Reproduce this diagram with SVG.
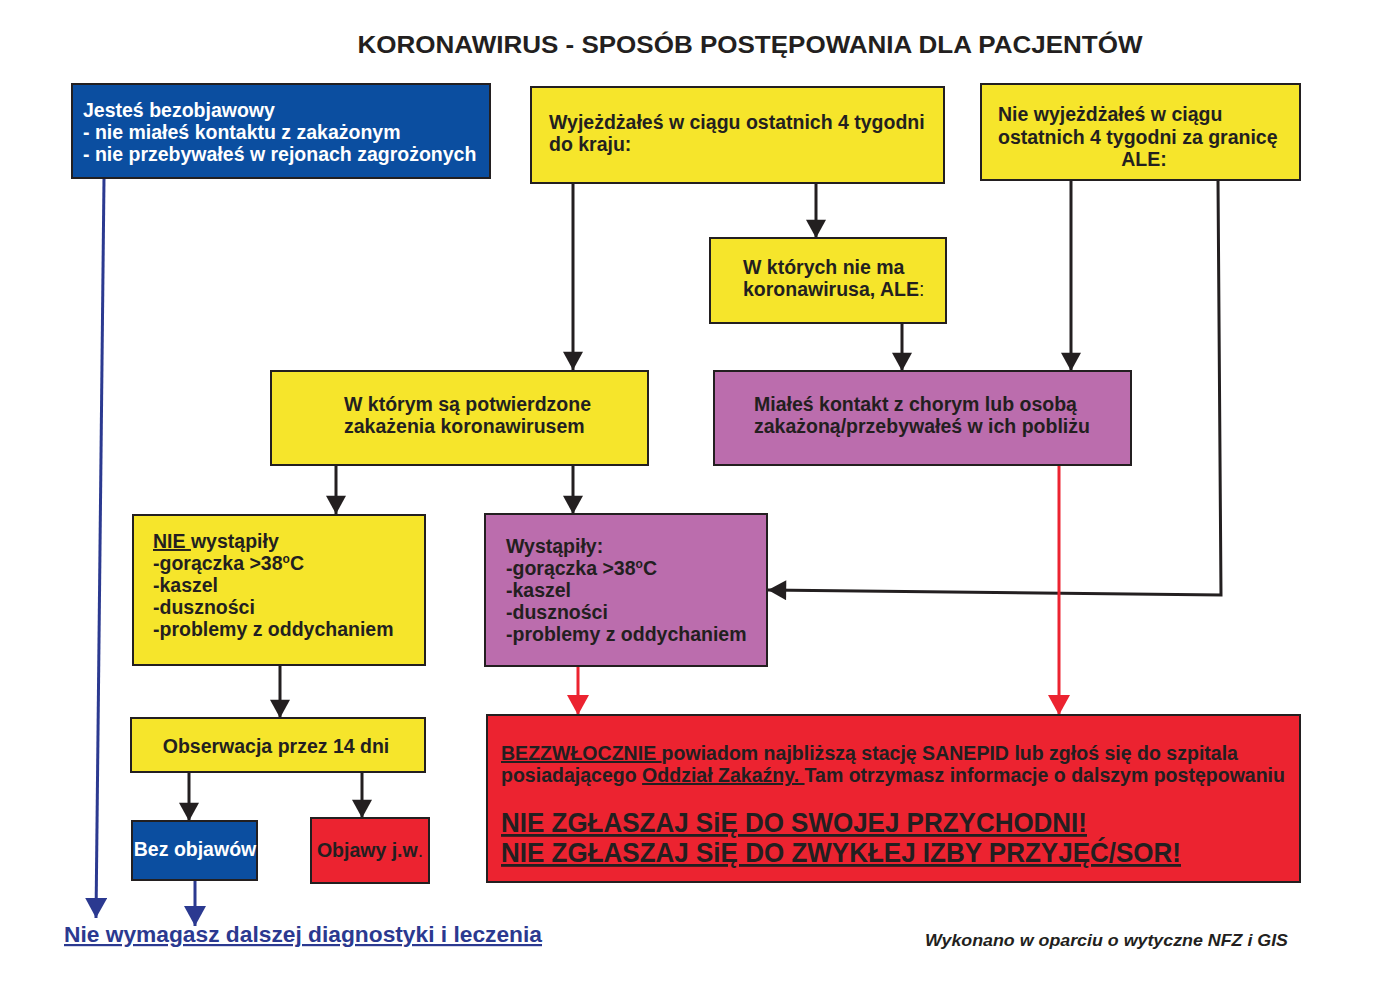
<svg xmlns="http://www.w3.org/2000/svg" width="1400" height="999" viewBox="0 0 1400 999">
<defs>
<style>
.t{font-family:"Liberation Sans",Arial,sans-serif;font-weight:bold;font-size:19.5px;fill:#231f20}
.w{fill:#ffffff}
.box{stroke:#231f20;stroke-width:2}
.y{fill:#f6e52b}
.b{fill:#0b4ea0}
.p{fill:#bb6dad}
.r{fill:#ec2330}
.k{stroke:#231f20;stroke-width:3;fill:none}
.kr{stroke:#ec2330;stroke-width:3;fill:none}
.kb{stroke:#2b3990;stroke-width:3;fill:none}
.u{text-decoration:underline}
.n{font-family:"Liberation Sans",Arial,sans-serif;font-weight:bold;fill:#231f20}
</style>
<marker id="ak" viewBox="0 0 20 22" refX="20" refY="11" markerWidth="22" markerHeight="20" markerUnits="userSpaceOnUse" orient="auto"><path d="M0,0 L20,11 L0,22 Z" fill="#231f20"/></marker>
<marker id="ar" viewBox="0 0 20 22" refX="20" refY="11" markerWidth="24" markerHeight="22" markerUnits="userSpaceOnUse" orient="auto"><path d="M0,0 L20,11 L0,22 Z" fill="#ec2330"/></marker>
<marker id="ab" viewBox="0 0 20 22" refX="20" refY="11" markerWidth="24" markerHeight="22" markerUnits="userSpaceOnUse" orient="auto"><path d="M0,0 L20,11 L0,22 Z" fill="#2b3990"/></marker>
</defs>
<rect width="1400" height="999" fill="#ffffff"/>
<text class="t" x="750" y="53" text-anchor="middle" style="font-size:24.5px" textLength="785" lengthAdjust="spacingAndGlyphs">KORONAWIRUS - SPOSÓB POSTĘPOWANIA DLA PACJENTÓW</text>

<g id="connectors">
<path class="kb" d="M104,178 L96,918" marker-end="url(#ab)"/>
<path class="kb" d="M195,880 L195,926" marker-end="url(#ab)"/>
<path class="k" d="M573,183 L573,370" marker-end="url(#ak)"/>
<path class="k" d="M816,183 L816,238" marker-end="url(#ak)"/>
<path class="k" d="M902,323 L902,371" marker-end="url(#ak)"/>
<path class="k" d="M1071,180 L1071,371" marker-end="url(#ak)"/>
<path class="k" d="M1218,180 L1221,595 L768,590" marker-end="url(#ak)"/>
<path class="k" d="M336,465 L336,514" marker-end="url(#ak)"/>
<path class="k" d="M573,465 L573,514" marker-end="url(#ak)"/>
<path class="k" d="M280,665 L280,718" marker-end="url(#ak)"/>
<path class="k" d="M189,772 L189,821" marker-end="url(#ak)"/>
<path class="k" d="M362,772 L362,818" marker-end="url(#ak)"/>
<path class="kr" d="M578,666 L578,715" marker-end="url(#ar)"/>
<path class="kr" d="M1059,465 L1059,715" marker-end="url(#ar)"/>
</g>

<g id="n-bezobjawowy">
<rect class="box b" x="72" y="84" width="418" height="94"/>
<text class="t w" x="83" y="117">Jesteś bezobjawowy</text>
<text class="t w" x="83" y="139">- nie miałeś kontaktu z zakażonym</text>
<text class="t w" x="83" y="161">- nie przebywałeś w rejonach zagrożonych</text>
</g>

<g id="n-wyjezdzales">
<rect class="box y" x="531" y="87" width="413" height="96"/>
<text class="t" x="549" y="129">Wyjeżdżałeś w ciągu ostatnich 4 tygodni</text>
<text class="t" x="549" y="151">do kraju:</text>
</g>

<g id="n-niewyjezdzales">
<rect class="box y" x="981" y="84" width="319" height="96"/>
<text class="t" x="998" y="121">Nie wyjeżdżałeś w ciągu</text>
<text class="t" x="998" y="144">ostatnich 4 tygodni za granicę</text>
<text class="t" x="1144" y="166" text-anchor="middle">ALE:</text>
</g>

<g id="n-niema">
<rect class="box y" x="710" y="238" width="236" height="85"/>
<text class="t" x="743" y="274">W których nie ma</text>
<text class="t" x="743" y="296">koronawirusa, ALE<tspan font-weight="normal">:</tspan></text>
</g>

<g id="n-potwierdzone">
<rect class="box y" x="271" y="371" width="377" height="94"/>
<text class="t" x="344" y="411">W którym są potwierdzone</text>
<text class="t" x="344" y="433">zakażenia koronawirusem</text>
</g>

<g id="n-kontakt">
<rect class="box p" x="714" y="371" width="417" height="94"/>
<text class="t" x="754" y="411">Miałeś kontakt z chorym lub osobą</text>
<text class="t" x="754" y="433">zakażoną/przebywałeś w ich pobliżu</text>
</g>

<g id="n-niewystapily">
<rect class="box y" x="133" y="515" width="292" height="150"/>
<text class="t" x="153" y="548"><tspan class="u">NIE </tspan>wystąpiły</text>
<text class="t" x="153" y="570">-gorączka &gt;38<tspan style="font-size:12px" dy="-7">o</tspan><tspan dy="7">C</tspan></text>
<text class="t" x="153" y="592">-kaszel</text>
<text class="t" x="153" y="614">-duszności</text>
<text class="t" x="153" y="636">-problemy z oddychaniem</text>
</g>

<g id="n-wystapily">
<rect class="box p" x="485" y="514" width="282" height="152"/>
<text class="t" x="506" y="553">Wystąpiły:</text>
<text class="t" x="506" y="575">-gorączka &gt;38<tspan style="font-size:12px" dy="-7">o</tspan><tspan dy="7">C</tspan></text>
<text class="t" x="506" y="597">-kaszel</text>
<text class="t" x="506" y="619">-duszności</text>
<text class="t" x="506" y="641">-problemy z oddychaniem</text>
</g>

<g id="n-obserwacja">
<rect class="box y" x="131" y="718" width="294" height="54"/>
<text class="t" x="276" y="753" text-anchor="middle">Obserwacja przez 14 dni</text>
</g>

<g id="n-bezobjawow">
<rect class="box b" x="132" y="821" width="125" height="59"/>
<text class="t w" x="195" y="856" text-anchor="middle">Bez objawów</text>
</g>

<g id="n-objawy">
<rect class="box r" x="311" y="818" width="118" height="65"/>
<text class="t" x="370" y="857" text-anchor="middle">Objawy j.w<tspan font-weight="normal">.</tspan></text>
</g>

<g id="n-sanepid">
<rect class="box r" x="487" y="715" width="813" height="167"/>
<text class="n" x="501" y="760" textLength="737" lengthAdjust="spacingAndGlyphs" style="font-size:20px"><tspan class="u">BEZZWŁOCZNIE </tspan>powiadom najbliższą stację SANEPID lub zgłoś się do szpitala</text>
<text class="n" x="501" y="782" textLength="784" lengthAdjust="spacingAndGlyphs" style="font-size:20px">posiadającego <tspan class="u">Oddział Zakaźny. </tspan>Tam otrzymasz informacje o dalszym postępowaniu</text>
<text class="n u" x="501" y="832" textLength="586" lengthAdjust="spacingAndGlyphs" style="font-size:28px">NIE ZGŁASZAJ SiĘ DO SWOJEJ PRZYCHODNI!</text>
<text class="n u" x="501" y="862" textLength="680" lengthAdjust="spacingAndGlyphs" style="font-size:28px">NIE ZGŁASZAJ SiĘ DO ZWYKŁEJ IZBY PRZYJĘĆ/SOR!</text>
</g>

<g id="n-niewymagasz">
<text class="t u" x="64" y="942" style="font-size:22px;fill:#2b3990" textLength="478" lengthAdjust="spacingAndGlyphs">Nie wymagasz dalszej diagnostyki i leczenia</text>
</g>

<g id="n-wykonano">
<text class="t" x="925" y="946" style="font-size:16.5px;font-style:italic" textLength="363" lengthAdjust="spacingAndGlyphs">Wykonano w oparciu o wytyczne NFZ i GIS</text>
</g>
</svg>
